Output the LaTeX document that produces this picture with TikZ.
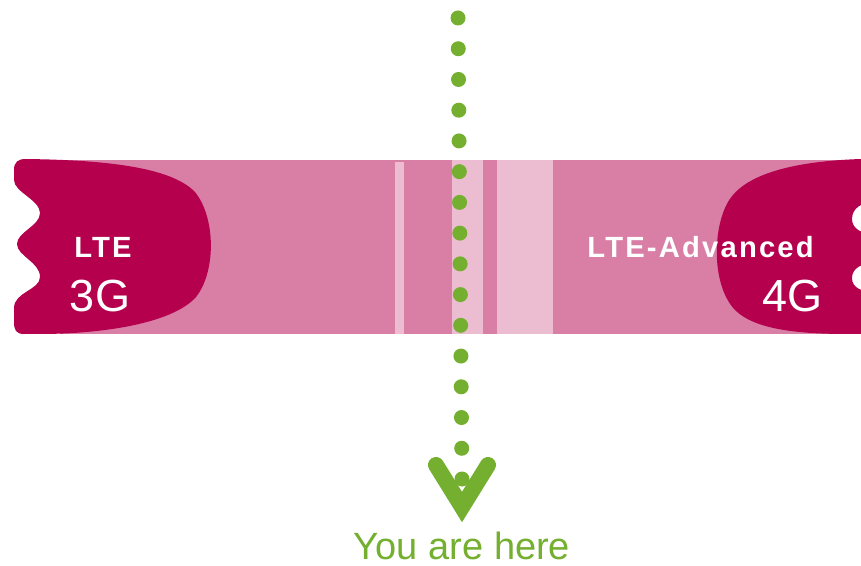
\documentclass[tikz,border=0pt]{standalone}
\usepackage{fontspec}
\setmainfont{Liberation Sans}
\newfontfamily\widefont[LetterSpace=7.5]{Liberation Sans}
\usetikzlibrary{calc}

\definecolor{gencol}{RGB}{181,0,78}
\definecolor{bandcol}{RGB}{217,126,165}
\definecolor{lightcol}{RGB}{236,189,209}
\definecolor{herecol}{RGB}{116,175,48}

\begin{document}
\begin{tikzpicture}[
  x=0.5pt, y=-0.5pt,
  gen/.style={fill=gencol},
  stripe/.style={fill=lightcol},
  label/.style={text=white, inner sep=0pt},
  gentext/.style={label, font=\widefont\bfseries\fontsize{14.6}{14.6}\selectfont},
  bigtext/.style={label, font=\fontsize{22.5}{22.5}\selectfont},
  dot/.style={fill=herecol},
  vmark/.style={draw=herecol, line width=8pt, line cap=round, line join=miter},
]
  \clip (0,0) rectangle (861,566);

  % Band between the generations
  \fill[bandcol] (60,160) rectangle (848,334);
  \fill[stripe] (395,162) rectangle (404,334);
  \fill[stripe] (452,160) rectangle (483,334);
  \fill[stripe] (497,160) rectangle (553,334);

  % 3G block (left)
  \fill[gen] (26,159) .. controls (100,160) and (170,166) .. (195,192)
    .. controls (216,218) and (216,272) .. (196,297)
    .. controls (172,324) and (100,334) .. (40,334)
    -- (24,334) .. controls (16,334) and (14,330) .. (14,322)
    -- (14,308) .. controls (14,292) and (40,290) .. (40,277)
    .. controls (40,262) and (17,256) .. (17,244)
    .. controls (17,232) and (40,226) .. (40,213)
    .. controls (40,200) and (14,192) .. (14,180)
    -- (14,170) .. controls (14,162) and (18,159) .. (26,159) -- cycle;

  % 4G block (right)
  \fill[gen] (861,159) -- (875,159) -- (875,202)
    .. controls (862,202) and (852,208) .. (852,219)
    .. controls (852,229) and (862,234) .. (875,234)
    -- (875,263) .. controls (862,263) and (852,268) .. (852,278)
    .. controls (852,288) and (862,292) .. (875,292)
    -- (875,334) -- (848,334)
    .. controls (800,334) and (755,330) .. (735,310)
    .. controls (712,286) and (712,230) .. (728,202)
    .. controls (745,172) and (800,161) .. (861,159) -- cycle;

  % Labels
  \node[gentext, anchor=base] (lte) at (103,258) {LTE};
  \node[bigtext, anchor=base] (g3) at (100,312) {3G};
  \node[gentext, anchor=base west] (ltea) at (587,258) {LTE-Advanced};
  \node[bigtext, anchor=base east] (g4) at (823,312) {4G};

  % Dotted path down to the marker
  \coordinate (dtop) at (458,18);
  \coordinate (dlast) at (462,479);
  \foreach \i in {0,...,15}
    \fill[dot] ($(dtop)!\i/15!(dlast)$) circle (7.5);

  % Marker
  \coordinate (vl) at (436,465);
  \coordinate (vtip) at (462,507);
  \coordinate (vr) at (488,465);
  \draw[vmark] (vl) -- (vtip) -- (vr);
  \node[text=herecol, inner sep=0pt, anchor=base,
        font=\fontsize{19}{19}\selectfont] (here) at (462,559) {You are here};
\end{tikzpicture}
\end{document}
